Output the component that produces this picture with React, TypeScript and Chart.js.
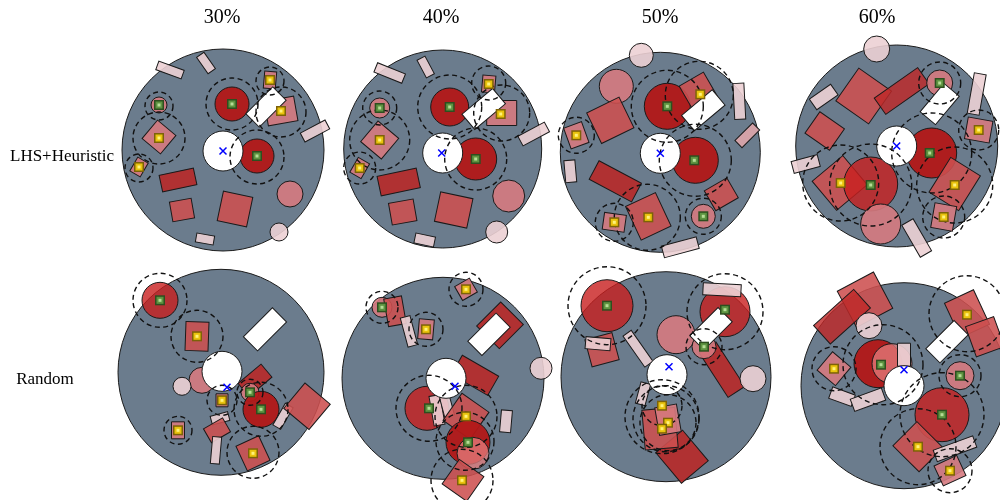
import React, { useEffect, useRef } from 'react';
import { Chart, registerables } from 'chart.js';

Chart.register(...registerables);

// ---- data -----------------------------------------------------------
const colLabels = ['30%', '40%', '50%', '60%'];
const rowLabels = ['LHS+Heuristic', 'Random'];

// container discs: [cx, cy, r] (data units)
const discs: number[][] = [
  [223, 150, 101], [442.7, 149, 99], [660.3, 152.3, 100], [896.7, 146, 101],
  [221, 372.3, 103], [443, 378.3, 101], [666, 376.7, 105], [904, 385.7, 103],
];

// bodies: [panel, shape, dx, dy, w|r, h, angleDeg, tone]
const bodies: any[] = [
  [0,'r',-53,-80,27,9,20,'light'],[0,'r',-17,-87,20,9,55,'light'],[0,'r',47,-70,12,17,5,'pink'],
  [0,'c',9,-46,17,0,0,'dark'],[0,'r',58,-39,30,25,-10,'pink'],[0,'r',92,-19,28,10,-28,'light'],
  [0,'c',-64,-45,8,0,0,'pink'],[0,'r',-64,-13,24,24,40,'pink'],[0,'r',-84,17,12,16,30,'pink'],
  [0,'c',34,6,17,0,0,'dark'],[0,'r',-45,30,35,17,-12,'red'],[0,'r',-41,60,22,20,-10,'mid'],
  [0,'r',12,59,30,30,12,'mid'],[0,'c',67,44,13,0,0,'pink'],[0,'c',56,82,9,0,0,'light'],
  [0,'r',-18,89,18,9,10,'light'],

  [1,'r',-53,-76,30,10,22,'light'],[1,'r',-17,-82,20,9,62,'light'],[1,'c',7,-42,19,0,0,'dark'],
  [1,'r',46,-65,13,17,5,'pink'],[1,'r',59,-36,30,25,0,'pink'],[1,'r',91,-15,30,11,-28,'light'],
  [1,'c',-63,-41,10,0,0,'pink'],[1,'r',-63,-9,27,27,40,'pink'],[1,'r',-83,19,13,17,30,'pink'],
  [1,'c',33,10,21,0,0,'dark'],[1,'r',-44,33,40,20,-12,'red'],[1,'r',-40,63,25,22,-10,'mid'],
  [1,'r',11,61,33,30,12,'mid'],[1,'c',66,47,16,0,0,'pink'],[1,'c',54,83,11,0,0,'light'],
  [1,'r',-18,91,20,10,12,'light'],

  [2,'c',-19,-97,12,0,0,'light'],[2,'c',-44,-66,17,0,0,'pink'],[2,'r',-50,-32,36,34,-26,'mid'],
  [2,'c',7,-46,23,0,0,'dark'],[2,'r',38,-61,28,28,-30,'mid'],[2,'r',79,-51,11,36,-3,'light'],
  [2,'r',87,-17,25,10,-45,'rose'],[2,'c',35,8,23,0,0,'dark'],[2,'r',-84,-17,19,22,-20,'pink'],
  [2,'r',-90,19,11,22,-5,'light'],[2,'r',-45,29,48,21,28,'red'],[2,'r',-12,64,33,37,-25,'mid'],
  [2,'r',-46,70,22,17,8,'pink'],[2,'r',61,42,26,23,-30,'mid'],[2,'c',43,64,12,0,0,'pink'],
  [2,'r',20,95,36,12,-15,'light'],

  [3,'c',-20,-97,13,0,0,'light'],[3,'r',-73,-49,26,13,-35,'light'],[3,'r',-33,-50,40,40,-55,'mid'],
  [3,'r',5,-55,53,20,-35,'redA'],[3,'c',43,-63,13,0,0,'pink'],[3,'r',80,-52,12,41,10,'light'],
  [3,'r',-72,-15,30,26,35,'mid'],[3,'r',-91,18,27,12,-15,'light'],[3,'c',35,7,25,0,0,'dark'],
  [3,'r',82,-16,25,22,10,'pink'],[3,'r',-57,37,40,38,-40,'mid'],[3,'c',-26,38,27,0,0,'darkA'],
  [3,'c',-16,78,20,0,0,'pink'],[3,'r',20,92,37,13,60,'light'],[3,'r',58,38,41,35,-58,'mid'],
  [3,'r',47,71,22,25,10,'pink'],

  [4,'c',-61,-72,18,0,0,'darkA'],[4,'r',-24,-36,23,29,2,'mid'],[4,'c',-19,8,13,0,0,'pink'],
  [4,'c',-39,14,9,0,0,'light'],[4,'r',34,8,30,17,-40,'red'],[4,'c',29,20,9,0,0,'pink'],
  [4,'c',40,37,18,0,0,'dark'],[4,'r',1,28,12,13,0,'pink'],[4,'r',-1,46,18,9,-15,'light'],
  [4,'r',62,44,25,9,-60,'light'],[4,'r',86,34,33,33,40,'mid'],[4,'r',-4,58,22,16,-30,'mid'],
  [4,'r',-5,78,9,27,5,'light'],[4,'r',-43,58,13,17,0,'pink'],[4,'r',32,81,25,27,-25,'mid'],

  [5,'c',-61,-71,10,0,0,'pink'],[5,'r',-48,-67,18,28,-10,'mid'],[5,'r',-34,-47,10,30,-15,'light'],
  [5,'r',-17,-49,15,20,5,'pink'],[5,'r',23,-89,17,16,-30,'pink'],[5,'r',57,-53,34,32,-45,'red'],
  [5,'c',98,-10,11,0,0,'light'],[5,'r',32,-3,42,22,30,'red'],[5,'c',-16,30,22,0,0,'darkA'],
  [5,'r',-6,32,11,30,-10,'light'],[5,'r',4,28,10,20,-15,'light'],[5,'r',23,38,33,33,35,'mid'],
  [5,'c',25,64,22,0,0,'dark'],[5,'c',30,75,16,0,0,'pinkA'],[5,'r',63,43,11,22,5,'light'],
  [5,'r',20,102,30,30,35,'mid'],

  [6,'c',-59,-71,26,0,0,'darkA'],[6,'r',-64,-27,28,28,-15,'mid'],[6,'r',-68,-33,25,12,5,'light'],
  [6,'r',-28,-28,10,38,-35,'light'],[6,'c',10,-42,19,0,0,'pink'],[6,'c',59,-65,25,0,0,'darkA'],
  [6,'r',56,-87,38,12,3,'light'],[6,'r',56,-7,53,20,57,'red'],[6,'c',38,-30,12,0,0,'pink'],
  [6,'c',87,2,13,0,0,'light'],[6,'r',-23,17,10,22,15,'light'],[6,'r',16,80,35,40,-40,'red'],
  [6,'r',-6,52,33,40,-5,'mid'],[6,'r',2,43,22,28,-10,'pink'],

  [7,'r',-39,-86,41,41,-28,'mid'],[7,'r',-62,-69,54,25,-42,'redA'],[7,'c',-35,-60,13,0,0,'light'],
  [7,'c',-26,-22,24,0,0,'dark'],[7,'c',-12,-22,20,0,0,'pinkA'],[7,'r',0,-31,13,23,0,'light'],
  [7,'r',-70,-17,24,24,40,'pink'],[7,'r',-62,11,24,12,20,'light'],[7,'r',-36,14,33,13,-20,'light'],
  [7,'r',63,-72,32,38,-25,'mid'],[7,'r',81,-49,30,32,-20,'mid'],[7,'c',56,-10,14,0,0,'pink'],
  [7,'c',38,29,27,0,0,'darkA'],[7,'r',14,61,34,37,-45,'mid'],[7,'r',51,63,42,12,-20,'light'],
  [7,'r',46,85,25,22,-25,'pink'],
];

// white robot circle per panel: [panel, dx, dy, r]
const whiteCircles: number[][] = [
  [0,0,1,20],[1,0,4,20],[2,0,1,20],[3,0,0,20],[4,1,-1,20],[5,3,0,20],[6,1,-2,20],[7,0,0,20],
];
// white rectangles: [panel, dx, dy, w, h, angle]
const whiteRects: number[][] = [
  [0,43,-43,38,19,-45],[1,41,-40,40,20,-40],[2,43,-42,40,20,-40],[3,43,-42,37,20,-50],
  [4,44,-43,41,20,-45],[5,46,-44,40,20,-45],[6,45,-48,40,20,-45],[7,43,-44,40,20,-45],
];
// blue crosses: [panel, dx, dy]
const crosses: number[][] = [
  [0,0,1],[1,-1,4],[2,0,1],[3,0,0],[4,6,15],[5,12,8],[6,3,-10],[7,0,-16],
];
// markers: [panel, dx, dy, kind]
const markers: any[] = [
  [0,9,-46,'g'],[0,47,-70,'y'],[0,58,-39,'y'],[0,-64,-45,'g'],[0,-64,-12,'y'],[0,-84,17,'y'],[0,34,6,'g'],
  [1,7,-42,'g'],[1,46,-65,'y'],[1,58,-35,'y'],[1,-63,-41,'g'],[1,-63,-9,'y'],[1,-83,19,'y'],[1,33,10,'g'],
  [2,7,-46,'g'],[2,40,-58,'y'],[2,34,8,'g'],[2,-84,-17,'y'],[2,-12,65,'y'],[2,-46,70,'y'],[2,43,64,'g'],
  [3,43,-63,'g'],[3,33,7,'g'],[3,82,-16,'y'],[3,-26,39,'g'],[3,-56,37,'y'],[3,58,39,'y'],[3,47,71,'y'],
  [4,-61,-72,'g'],[4,-24,-36,'y'],[4,29,20,'g'],[4,40,37,'g'],[4,1,28,'y'],[4,-43,58,'y'],[4,32,81,'y'],
  [5,-61,-71,'g'],[5,-17,-49,'y'],[5,23,-89,'y'],[5,-14,30,'g'],[5,23,38,'y'],[5,25,64,'g'],[5,19,102,'y'],
  [6,-59,-71,'g'],[6,59,-67,'g'],[6,38,-30,'g'],[6,-4,29,'y'],[6,2,46,'y'],[6,-4,52,'y'],
  [7,-23,-21,'g'],[7,-70,-17,'y'],[7,63,-71,'y'],[7,56,-10,'g'],[7,38,29,'g'],[7,14,61,'y'],[7,46,85,'y'],
];
// dashed rings: [panel, dx, dy, r]
const rings: number[][] = [
  [0,9,-46,26],[0,47,-69,14],[0,58,-38,25],[0,-64,-44,14],[0,-64,-12,26],[0,-84,18,14],[0,34,7,27],
  [1,7,-42,32],[1,46,-66,17],[1,59,-36,28],[1,-63,-41,17],[1,-63,-9,30],[1,-83,19,16],[1,33,10,31],
  [2,7,-46,36],[2,39,-57,34],[2,35,8,36],[2,-84,-17,18],[2,-13,65,33],[2,-46,70,19],[2,43,64,18],
  [3,43,-63,21],[3,35,7,40],[3,82,-16,20],[3,-26,39,41],[3,-56,37,38],[3,58,39,38],[3,47,71,21],
  [4,-61,-72,27],[4,-24,-36,26],[4,29,20,13],[4,40,37,27],[4,1,28,15],[4,-43,58,14],[4,32,80,26],
  [5,-61,-71,16],[5,-17,-49,17],[5,23,-89,17],[5,-14,30,33],[5,23,38,31],[5,22,63,29],[5,19,102,31],
  [6,-59,-71,39],[6,59,-65,38],[6,38,-30,18],[6,-4,40,37],[6,0,42,33],[6,-4,29,20],[6,2,46,28],
  [7,-21,-21,40],[7,-70,-17,22],[7,63,-72,38],[7,56,-10,21],[7,38,29,42],[7,14,61,38],[7,46,85,22],
];

// ---- styles ---------------------------------------------------------
const tones: Record<string, string> = {
  dark: 'rgba(178,24,24,0.95)',
  darkA: 'rgba(200,30,30,0.8)',
  red: 'rgba(182,42,42,0.92)',
  redA: 'rgba(190,40,40,0.82)',
  mid: 'rgba(205,80,80,0.88)',
  pink: 'rgba(214,122,127,0.9)',
  pinkA: 'rgba(228,125,125,0.75)',
  rose: 'rgba(220,165,170,0.92)',
  light: 'rgba(236,208,212,0.9)',
};
const DISC = '#6b7c8d';
const colTitleX = [222, 441, 660, 877];
const rowLabelPos = [[62, 157], [45, 380]];

const layoutPlugin = {
  id: 'layoutPlugin',
  afterDatasetsDraw(chart: any) {
    const { ctx } = chart;
    const xs = chart.scales.x;
    const ys = chart.scales.y;
    const k = Math.abs(xs.getPixelForValue(1) - xs.getPixelForValue(0));
    const pos = (p: number, dx: number, dy: number) => [
      xs.getPixelForValue(discs[p][0] + dx),
      ys.getPixelForValue(discs[p][1] + dy),
    ];
    const circle = (cx: number, cy: number, r: number, fill: string) => {
      ctx.beginPath();
      ctx.arc(cx, cy, r, 0, Math.PI * 2);
      ctx.fillStyle = fill;
      ctx.fill();
      ctx.lineWidth = 1;
      ctx.strokeStyle = '#1a1a1a';
      ctx.stroke();
    };
    const rect = (cx: number, cy: number, w: number, h: number, ang: number, fill: string) => {
      ctx.save();
      ctx.translate(cx, cy);
      ctx.rotate((ang * Math.PI) / 180);
      ctx.beginPath();
      ctx.rect(-w / 2, -h / 2, w, h);
      ctx.fillStyle = fill;
      ctx.fill();
      ctx.lineWidth = 1;
      ctx.strokeStyle = '#1a1a1a';
      ctx.stroke();
      ctx.restore();
    };
    ctx.save();
    discs.forEach((d) => {
      circle(xs.getPixelForValue(d[0]), ys.getPixelForValue(d[1]), d[2] * k, DISC);
    });
    bodies.forEach((b) => {
      const [cx, cy] = pos(b[0], b[2], b[3]);
      if (b[1] === 'c') circle(cx, cy, b[4] * k, tones[b[7]]);
      else rect(cx, cy, b[4] * k, b[5] * k, b[6], tones[b[7]]);
    });
    whiteCircles.forEach((w) => {
      const [cx, cy] = pos(w[0], w[1], w[2]);
      circle(cx, cy, w[3] * k, '#ffffff');
    });
    whiteRects.forEach((w) => {
      const [cx, cy] = pos(w[0], w[1], w[2]);
      rect(cx, cy, w[3] * k, w[4] * k, w[5], '#ffffff');
    });
    ctx.setLineDash([5, 3.5]);
    ctx.lineWidth = 1.4;
    ctx.strokeStyle = '#111';
    rings.forEach((r) => {
      const [cx, cy] = pos(r[0], r[1], r[2]);
      ctx.beginPath();
      ctx.arc(cx, cy, r[3] * k, 0, Math.PI * 2);
      ctx.stroke();
    });
    ctx.setLineDash([]);
    markers.forEach((m) => {
      const [cx, cy] = pos(m[0], m[1], m[2]);
      const yellow = m[3] === 'y';
      ctx.fillStyle = yellow ? '#7d6208' : '#2d4f1f';
      ctx.fillRect(cx - 5, cy - 5, 10, 10);
      ctx.fillStyle = yellow ? '#e9c30d' : '#5e9441';
      ctx.fillRect(cx - 3.5, cy - 3.5, 7, 7);
      ctx.fillStyle = yellow ? '#fff27a' : '#b5dc96';
      ctx.fillRect(cx - 1.5, cy - 1.5, 3, 3);
    });
    ctx.strokeStyle = '#0000ff';
    ctx.lineWidth = 1.5;
    crosses.forEach((c) => {
      const [cx, cy] = pos(c[0], c[1], c[2]);
      ctx.beginPath();
      ctx.moveTo(cx - 3.5, cy - 3.5);
      ctx.lineTo(cx + 3.5, cy + 3.5);
      ctx.moveTo(cx + 3.5, cy - 3.5);
      ctx.lineTo(cx - 3.5, cy + 3.5);
      ctx.stroke();
    });
    ctx.fillStyle = '#000';
    ctx.textAlign = 'center';
    ctx.textBaseline = 'middle';
    ctx.font = '20px "Liberation Serif", serif';
    colLabels.forEach((t, i) => {
      ctx.fillText(t, xs.getPixelForValue(colTitleX[i]), ys.getPixelForValue(18));
    });
    ctx.font = '17px "Liberation Serif", serif';
    rowLabels.forEach((t, i) => {
      ctx.fillText(t, xs.getPixelForValue(rowLabelPos[i][0]), ys.getPixelForValue(rowLabelPos[i][1]));
    });
    ctx.restore();
  },
};

export default function App() {
  const ref = useRef<HTMLCanvasElement | null>(null);
  useEffect(() => {
    document.body.style.margin = '0';
    if (!ref.current) return;
    const chart = new Chart(ref.current, {
      type: 'scatter',
      data: {
        datasets: [
          {
            label: 'markers',
            data: markers.map((m) => ({ x: discs[m[0]][0] + m[1], y: discs[m[0]][1] + m[2] })),
            pointRadius: 0,
          },
        ],
      },
      options: {
        animation: false,
        responsive: false,
        devicePixelRatio: 1,
        layout: { padding: 0 },
        plugins: { legend: { display: false }, tooltip: { enabled: false } },
        scales: {
          x: { type: 'linear', min: 0, max: 1000, display: false },
          y: { type: 'linear', min: 0, max: 500, reverse: true, display: false },
        },
      },
      plugins: [layoutPlugin],
    });
    return () => chart.destroy();
  }, []);
  return (
    <div style={{ width: 1000, height: 500, background: '#fff' }}>
      <canvas ref={ref} width={1000} height={500} />
    </div>
  );
}
